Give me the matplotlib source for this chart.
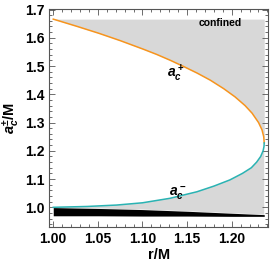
import numpy as np
import matplotlib
matplotlib.use("Agg")
import matplotlib.pyplot as plt
from matplotlib.ticker import MultipleLocator, FormatStrFormatter

plt.rcParams['font.family'] = ['Liberation Sans', 'DejaVu Sans']
plt.rcParams['font.weight'] = 'bold'
plt.rcParams['mathtext.fontset'] = 'custom'
plt.rcParams['mathtext.it'] = 'Liberation Sans:italic:bold'
plt.rcParams['mathtext.rm'] = 'Liberation Sans:bold'
plt.rcParams['mathtext.bf'] = 'Liberation Sans:bold'

# upper branch a_c^+ (orange)
r_upper = [1.000, 1.027, 1.051, 1.075, 1.1006, 1.116, 1.1314, 1.147, 1.1613, 1.176,
           1.191, 1.2037, 1.215, 1.2229, 1.2301, 1.234, 1.2359, 1.2365]
a_upper = [1.666, 1.640, 1.616, 1.590, 1.560, 1.541, 1.520, 1.497, 1.475, 1.450,
           1.420, 1.391, 1.360, 1.333, 1.300, 1.274, 1.250, 1.228]

# lower branch a_c^- (cyan)
r_lower = [1.2365, 1.2362, 1.2352, 1.2325, 1.228, 1.222, 1.212, 1.198, 1.180, 1.161,
           1.131, 1.100, 1.071, 1.038, 1.000]
a_lower = [1.228, 1.215, 1.200, 1.180, 1.160, 1.140, 1.120, 1.097, 1.075, 1.055,
           1.032, 1.016, 1.008, 1.003, 1.000]

# black band
r_band = [1.000, 1.05, 1.10, 1.15, 1.20, 1.2365]
band_top = [0.999, 0.996, 0.992, 0.986, 0.979, 0.974]
band_bot = [0.970, 0.970, 0.969, 0.969, 0.968, 0.968]

a_top_limit = 1.666

fig = plt.figure(figsize=(2.73, 2.71), dpi=100)
ax = fig.add_axes([0.181, 0.1635, 0.8, 0.805])

gray = '#d8d8d8'
# upper gray region
ax.fill_between(r_upper, a_upper, a_top_limit, color=gray, lw=0)
# lower gray region between cyan and black band
xs = np.concatenate([r_band, r_lower])
ys = np.concatenate([band_top, a_lower])
ax.fill(xs, ys, color=gray, lw=0)
# black band
ax.fill_between(r_band, band_bot, band_top, color='black', lw=0)

ax.plot(r_upper, a_upper, color='#f7941d', lw=1.1)
ax.plot(r_lower, a_lower, color='#2ab3b3', lw=1.1)

ax.text(1.137, 1.474, r'$a_c^+$', fontsize=10, ha='center', va='center')
ax.text(1.139, 1.05, r'$a_c^-$', fontsize=10, ha='center', va='center')
ax.text(1.187, 1.652, 'confined', fontsize=7.5, fontweight='bold', ha='center', va='center')

ax.set_xlim(0.9957, 1.2405)
ax.set_ylim(0.9314, 1.7035)
ax.xaxis.set_major_locator(MultipleLocator(0.05))
ax.xaxis.set_minor_locator(MultipleLocator(0.01))
ax.yaxis.set_major_locator(MultipleLocator(0.1))
ax.yaxis.set_minor_locator(MultipleLocator(0.02))
ax.xaxis.set_major_formatter(FormatStrFormatter('%.2f'))
ax.yaxis.set_major_formatter(FormatStrFormatter('%.1f'))
ax.tick_params(which='both', direction='in', top=True, right=True, color='#555555',
               labelsize=10, width=0.6)
ax.tick_params(which='major', length=4)
ax.tick_params(which='minor', length=2)
for lab in ax.get_xticklabels() + ax.get_yticklabels():
    lab.set_fontweight('bold')
for s in ax.spines.values():
    s.set_color('#555555')
    s.set_linewidth(0.8)

ax.set_xlabel('r/M', fontsize=10.5, fontweight='bold', labelpad=2)
ax.set_ylabel(r'$a_c^{\pm}$/M', fontsize=10.5, fontweight='bold', labelpad=2)

fig.savefig('out.png', dpi=100)
